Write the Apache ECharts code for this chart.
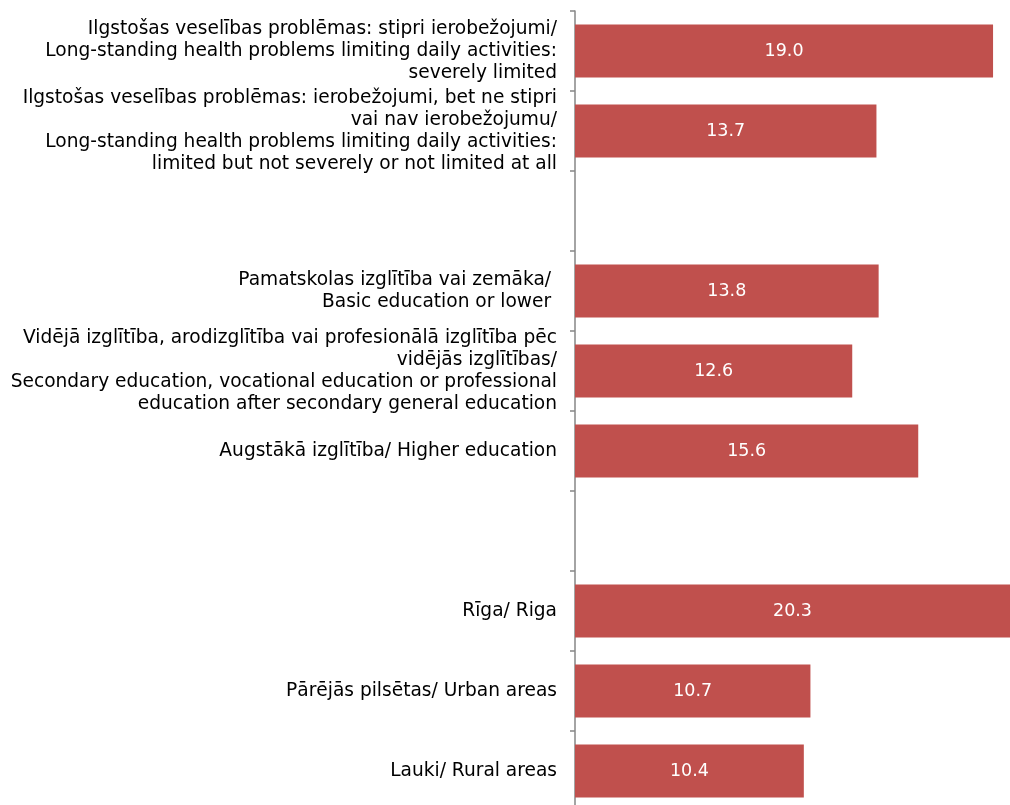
<!DOCTYPE html>
<html>
<head>
<meta charset="utf-8">
<script src="https://cdn.jsdelivr.net/npm/echarts@6/dist/echarts.min.js"></script>
<style>html,body{margin:0;padding:0;background:#fff;overflow:hidden}#c{width:1010px;height:815px}</style>
</head>
<body>
<div id="c"></div>
<script>
const categories = [
  "Ilgstošas veselības problēmas: stipri ierobežojumi/\nLong-standing health problems limiting daily activities:\nseverely limited",
  "Ilgstošas veselības problēmas: ierobežojumi, bet ne stipri\nvai nav ierobežojumu/\nLong-standing health problems limiting daily activities:\nlimited but not severely or not limited at all",
  "",
  "Pamatskolas izglītība vai zemāka/ \nBasic education or lower ",
  "Vidējā izglītība, arodizglītība vai profesionālā izglītība pēc\nvidējās izglītības/\nSecondary education, vocational education or professional\neducation after secondary general education",
  "Augstākā izglītība/ Higher education",
  " ",
  "Rīga/ Riga",
  "Pārējās pilsētas/ Urban areas",
  "Lauki/ Rural areas"
];
const values = [19.0, 13.7, null, 13.8, 12.6, 15.6, null, 20.3, 10.7, 10.4];

const FONT = "DejaVu Sans";
const chart = echarts.init(document.getElementById('c'), null, {renderer: 'canvas'});
chart.setOption({
  animation: false,
  grid: {left: 575, top: 11, height: 800, right: 0},
  xAxis: {type: 'value', min: 0, max: 19.77, show: false},
  yAxis: {
    type: 'category',
    data: categories,
    inverse: true,
    axisLine: {show: true, lineStyle: {color: '#868686', width: 1.5}},
    axisTick: {show: true, length: 5, lineStyle: {color: '#868686', width: 1.5}},
    axisLabel: {
      margin: 18,
      color: '#000',
      fontFamily: FONT,
      fontSize: 18.6,
      lineHeight: 21.8,
      align: 'right',
      interval: 0
    }
  },
  series: [{
    type: 'bar',
    data: values,
    barWidth: 53,
    itemStyle: {color: '#C0504D'},
    label: {
      show: true,
      position: 'inside',
      color: '#fff',
      fontFamily: FONT,
      fontSize: 17.5,
      formatter: p => p.value == null ? '' : p.value.toFixed(1)
    }
  }]
});
</script>
</body>
</html>
